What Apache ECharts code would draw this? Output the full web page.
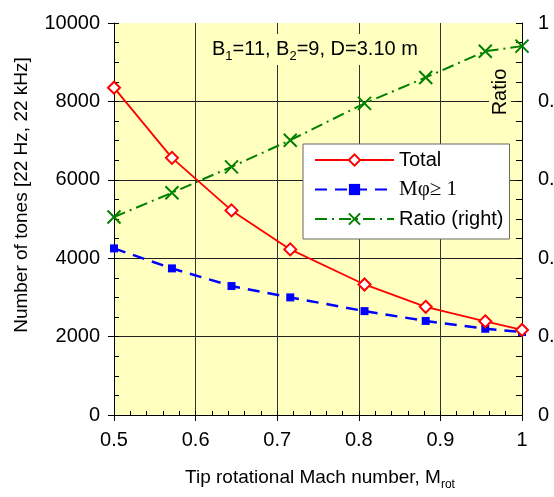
<!DOCTYPE html>
<html>
<head>
<meta charset="utf-8">
<script src="https://cdn.jsdelivr.net/npm/echarts@6/dist/echarts.min.js"></script>
<style>
  html, body { margin: 0; padding: 0; background: #fff; }
  #chart { width: 554px; height: 497px; }
</style>
</head>
<body>
<div id="chart"></div>
<script>
// tip Mach number of each run
const machTip = [0.5, 0.571, 0.644, 0.716, 0.807, 0.882, 0.955, 1.0];
// number of tones, all and supersonic (M_phi >= 1)
const totalTones = [8350, 6560, 5220, 4225, 3330, 2760, 2390, 2170];
const supersonicTones = [4250, 3740, 3290, 3000, 2650, 2400, 2200, 2115];
// ratio on right axis
const ratio = [0.505, 0.567, 0.633, 0.701, 0.795, 0.861, 0.928, 0.941];

const xTicks = [0.5, 0.6, 0.7, 0.8, 0.9, 1];
const leftTicks = [0, 2000, 4000, 6000, 8000, 10000];

const FONT = 'Liberation Sans, Arial, sans-serif';
const BG = '#FFFFC0';
const TICK = '#000';

const pairs = (ys) => machTip.map((x, i) => [x, ys[i]]);

const chart = echarts.init(document.getElementById('chart'));

const baseX = {
  type: 'value',
  min: xTicks[0],
  max: xTicks[xTicks.length - 1],
  interval: 0.1
};
const baseY = {
  type: 'value',
  min: leftTicks[0],
  max: leftTicks[leftTicks.length - 1],
  interval: 2000
};

chart.setOption({
  animation: false,
  textStyle: { fontFamily: FONT },
  grid: {
    left: 114, right: 32, top: 23, bottom: 82,
    containLabel: false, outerBoundsMode: 'none',
    show: true, backgroundColor: BG, borderWidth: 0, z: -1
  },
  xAxis: [
    Object.assign({}, baseX, {
      axisLine: { lineStyle: { color: '#000', width: 1 } },
      axisTick: { show: true, length: 6, lineStyle: { color: '#000' } },
      axisLabel: { color: '#000', fontSize: 20, margin: 15, fontFamily: FONT, formatter: (v) => String(v) },
      splitLine: { show: true, showMinLine: false, showMaxLine: false, lineStyle: { color: '#333', width: 1 } }
    }),
    // helper axis: minor ticks pointing inside
    Object.assign({}, baseX, {
      position: 'bottom', z: 3,
      axisLine: { show: false },
      axisTick: { show: true, inside: true, length: 4, lineStyle: { color: TICK, width: 1 } },
      minorTick: { show: true, splitNumber: 5, length: 4, lineStyle: { color: TICK, width: 1 } },
      axisLabel: { show: false },
      splitLine: { show: false }
    })
  ],
  yAxis: [
    Object.assign({}, baseY, {
      position: 'left',
      axisLine: { show: true, lineStyle: { color: '#000', width: 1 } },
      axisTick: { show: true, length: 6, lineStyle: { color: '#000' } },
      axisLabel: { color: '#000', fontSize: 20, margin: 14, fontFamily: FONT, formatter: (v) => String(v) },
      splitLine: { show: true, showMinLine: false, showMaxLine: false, lineStyle: { color: '#222', width: 1 } }
    }),
    {
      type: 'value', min: 0, max: 1, interval: 0.2,
      position: 'right', z: 3,
      axisLine: { show: true, lineStyle: { color: '#000', width: 1 } },
      axisTick: { show: true, inside: true, length: 6, lineStyle: { color: TICK, width: 1 } },
      minorTick: { show: true, splitNumber: 4, length: 6, lineStyle: { color: TICK, width: 1 } },
      axisLabel: { color: '#000', fontSize: 20, margin: 16, fontFamily: FONT, formatter: (v) => String(v) },
      splitLine: { show: false }
    },
    Object.assign({}, baseY, {
      position: 'left', z: 3,
      axisLine: { show: false },
      axisTick: { show: true, inside: true, length: 5, lineStyle: { color: TICK, width: 1 } },
      minorTick: { show: true, splitNumber: 4, length: 5, lineStyle: { color: TICK, width: 1 } },
      axisLabel: { show: false },
      splitLine: { show: false }
    })
  ],
  legend: {
    orient: 'vertical',
    left: 303, top: 144,
    padding: [6, 6, 10, 11],
    itemWidth: 79, itemHeight: 14, itemGap: 9,
    backgroundColor: '#fff',
    borderColor: '#666', borderWidth: 1,
    textStyle: {
      color: '#000', fontSize: 20, fontFamily: FONT,
      rich: { s: { fontFamily: 'Liberation Serif, Times New Roman, serif', fontSize: 21, color: '#000' } }
    },
    formatter: (name) => name === 'Mφ≥1' ? '{s|Mφ≥ 1}' : name,
    data: ['Total', 'Mφ≥1', 'Ratio (right)']
  },
  series: [
    {
      name: 'Total', type: 'line',
      data: pairs(totalTones),
      symbol: 'diamond', symbolSize: 12,
      itemStyle: { color: '#fff', borderColor: '#FF0000', borderWidth: 2 },
      lineStyle: { color: '#FF0000', width: 1.8 },
      z: 5
    },
    {
      name: 'Mφ≥1', type: 'line',
      data: pairs(supersonicTones),
      symbol: 'rect', symbolSize: 8,
      itemStyle: { color: '#0000FF' },
      lineStyle: { color: '#0000FF', width: 2.5, type: [12, 8] },
      z: 4
    },
    {
      name: 'Ratio (right)', type: 'line',
      yAxisIndex: 1,
      data: pairs(ratio),
      symbol: 'path://M0,0L10,10M10,0L0,10', symbolSize: 13,
      itemStyle: { color: 'rgba(0,0,0,0)', borderColor: '#008000', borderWidth: 2 },
      lineStyle: { color: '#008000', width: 2, type: [12, 5, 2, 5] },
      z: 3
    }
  ],
  graphic: [
    {
      type: 'text', left: 210, top: 34, z: 10,
      style: {
        text: 'B{sub|1}=11, B{sub|2}=9, D=3.10 m',
        fill: '#000', fontSize: 20, fontFamily: FONT,
        backgroundColor: BG, padding: [2, 2, 2, 2],
        rich: { sub: { fontSize: 13, verticalAlign: 'bottom', padding: [14, 0, 0, 0] } }
      }
    },
    {
      type: 'text', x: 500, y: 92, rotation: Math.PI / 2, z: 10,
      style: {
        text: 'Ratio', fill: '#000', fontSize: 20, fontFamily: FONT,
        align: 'center', verticalAlign: 'middle',
        backgroundColor: BG, padding: [1, 2, 1, 2]
      }
    },
    {
      type: 'text', x: 22, y: 195, rotation: Math.PI / 2, z: 10,
      style: {
        text: 'Number of tones [22 Hz, 22 kHz]', fill: '#000', fontSize: 19, fontFamily: FONT,
        align: 'center', verticalAlign: 'middle'
      }
    },
    {
      type: 'text', x: 320, y: 478, z: 10,
      style: {
        text: 'Tip rotational Mach number, M{sub|rot}', fill: '#000', fontSize: 19, fontFamily: FONT,
        align: 'center', verticalAlign: 'middle',
        rich: { sub: { fontSize: 12, padding: [14, 0, 0, 0] } }
      }
    }
  ]
});

window.addEventListener('resize', () => chart.resize());
</script>
</body>
</html>
